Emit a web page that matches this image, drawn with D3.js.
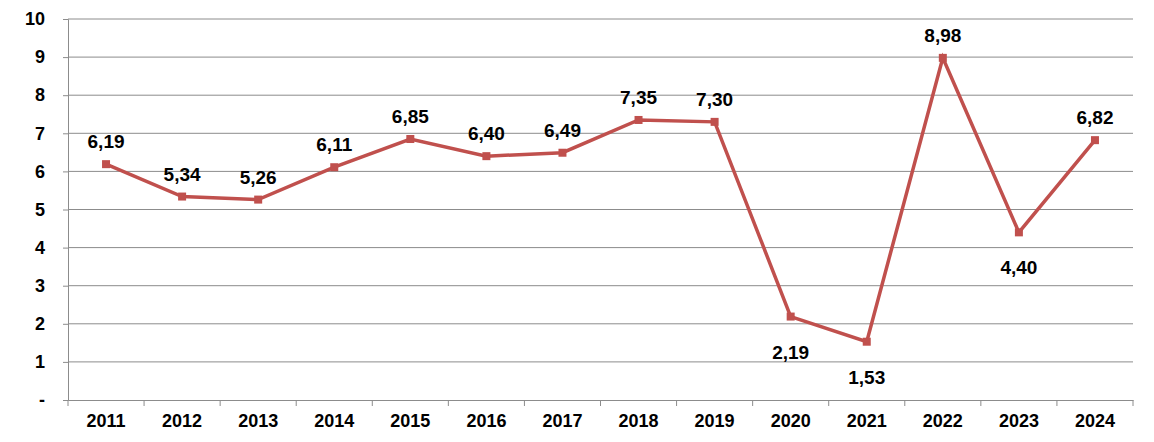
<!DOCTYPE html>
<html>
<head>
<meta charset="utf-8">
<script src="https://cdn.jsdelivr.net/npm/d3@7"></script>
<style>
body { margin: 0; background: #fff; }
text { font-family: "Liberation Sans", Arial, sans-serif; font-weight: bold; fill: #000; }
</style>
</head>
<body>
<svg id="chart" width="1154" height="442"></svg>
<script>
var years = ["2011","2012","2013","2014","2015","2016","2017","2018","2019","2020","2021","2022","2023","2024"];
var values = [6.19, 5.34, 5.26, 6.11, 6.85, 6.40, 6.49, 7.35, 7.30, 2.19, 1.53, 8.98, 4.40, 6.82];
var below = ["2020", "2021", "2023"];
var yTicks = [0,1,2,3,4,5,6,7,8,9,10];

var svg = d3.select("#chart");
var plotLeft = 68, plotRight = 1133, plotTop = 19, plotBottom = 400;

var x = d3.scaleBand().domain(years).range([plotLeft, plotRight]);
var y = d3.scaleLinear().domain([0, 10]).range([plotBottom, plotTop]);

// gridlines
svg.append("g").selectAll("line").data(yTicks.slice(1)).enter().append("line")
  .attr("x1", plotLeft).attr("x2", plotRight)
  .attr("y1", d => y(d)).attr("y2", d => y(d))
  .attr("stroke", "#8c8c8c").attr("stroke-width", 1);

// y axis
var yAxis = svg.append("g").attr("transform", "translate(" + plotLeft + ",0)")
  .call(d3.axisLeft(y).tickValues(yTicks).tickSize(5).tickPadding(18)
    .tickFormat(d => d === 0 ? "-" : d));
yAxis.select(".domain").attr("stroke", "#8c8c8c");
yAxis.selectAll("line").attr("stroke", "#8c8c8c");
yAxis.selectAll("text").style("font-size", "18px").attr("text-anchor", "end");

// x axis
var xAxis = svg.append("g").attr("transform", "translate(0," + plotBottom + ")")
  .call(d3.axisBottom(x).tickSize(0).tickPadding(14));
xAxis.select(".domain").attr("stroke", "#8c8c8c");
xAxis.selectAll("text").style("font-size", "18px");
svg.append("g").selectAll("line").data(years.concat(["end"])).enter().append("line")
  .attr("x1", (d, i) => plotLeft + i * x.bandwidth())
  .attr("x2", (d, i) => plotLeft + i * x.bandwidth())
  .attr("y1", plotBottom).attr("y2", plotBottom + 6)
  .attr("stroke", "#8c8c8c");

var cx = d => x(d) + x.bandwidth() / 2;

svg.append("path").datum(values)
  .attr("fill", "none").attr("stroke", "#C0504D").attr("stroke-width", 3.5)
  .attr("d", d3.line().x((d, i) => cx(years[i])).y(d => y(d)));

svg.append("g").selectAll("rect").data(values).enter().append("rect")
  .attr("x", (d, i) => cx(years[i]) - 4).attr("y", d => y(d) - 4)
  .attr("width", 8).attr("height", 8).attr("fill", "#C0504D");

svg.append("g").selectAll("text").data(values).enter().append("text")
  .attr("x", (d, i) => cx(years[i]))
  .attr("y", (d, i) => below.includes(years[i]) ? y(d) + 42 : y(d) - 16)
  .attr("text-anchor", "middle")
  .style("font-size", "19px")
  .text(d => d.toFixed(2).replace(".", ","));
</script>
</body>
</html>
